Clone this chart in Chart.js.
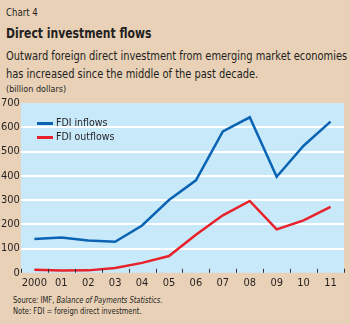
<!DOCTYPE html>
<html>
<head>
<meta charset="utf-8">
<script src="https://cdn.jsdelivr.net/npm/chart.js@4"></script>
<style>
  body { margin: 0; background: #e9d1b7; }
  #wrap { position: relative; width: 350px; height: 324px; background: #e9d1b7; font-family: 'DejaVu Sans Condensed', 'DejaVu Sans', sans-serif; font-stretch: condensed; color: #231f20; overflow: hidden; }
  .t { position: absolute; left: 6px; white-space: nowrap; transform-origin: left top; }
  #chartBox { position: absolute; left: 0; top: 95px; width: 350px; height: 191px; }
  .leg { position: absolute; font-size: 10.5px; white-space: nowrap; }
  .leg span { display: inline-block; width: 16px; height: 3px; vertical-align: middle; margin-right: 3px; }
</style>
</head>
<body>
<div id="wrap">
  <div class="t" style="top:7px;font-size:10px;transform:scaleX(0.95);">Chart 4</div>
  <div class="t" style="top:25px;font-size:14px;font-weight:bold;transform:scaleX(0.86);">Direct investment flows</div>
  <div class="t" style="top:47px;font-size:11.8px;line-height:18px;transform:scaleX(0.93);">Outward foreign direct investment from emerging market economies<br>has increased since the middle of the past decade.</div>
  <div class="t" style="top:84px;font-size:9px;">(billion dollars)</div>
  <div id="chartBox"><canvas id="chart"></canvas></div>
  <div class="leg" style="left:37px;top:116px;"><span style="background:#0a63b3"></span>FDI inflows</div>
  <div class="leg" style="left:37px;top:130px;"><span style="background:#e8212b"></span>FDI outflows</div>
  <div class="t" style="left:13px;top:295px;font-size:8.5px;transform:scaleX(0.88);">Source: IMF, <i>Balance of Payments Statistics</i>.</div>
  <div class="t" style="left:13px;top:306px;font-size:8.5px;transform:scaleX(0.88);">Note: FDI = foreign direct investment.</div>
</div>
<script>
const years = ['2000', '01', '02', '03', '04', '05', '06', '07', '08', '09', '10', '11'];
const inflows = [139, 146, 133, 128, 195, 300, 381, 583, 641, 396, 524, 623];
const outflows = [13, 9, 10, 20, 41, 69, 157, 237, 296, 179, 216, 272];
const yTicks = [0, 100, 200, 300, 400, 500, 600, 700];

const tickFont = { family: "'DejaVu Sans Condensed', 'DejaVu Sans'", size: 11 };

const areaBg = {
  id: 'areaBg',
  beforeDraw(chart) {
    const { ctx, chartArea: a } = chart;
    ctx.save();
    ctx.fillStyle = '#c8e9f9';
    ctx.fillRect(a.left, a.top, a.right - a.left, a.bottom - a.top);
    ctx.restore();
  }
};

// small tick marks between categories, drawn inside the plot bottom
const innerTicks = {
  id: 'innerTicks',
  afterDatasetsDraw(chart) {
    const { ctx, chartArea: a, scales: { x } } = chart;
    ctx.save();
    ctx.strokeStyle = '#333';
    ctx.lineWidth = 1;
    for (let i = 0; i <= years.length; i++) {
      const px = Math.round(x.getPixelForValue(i - 0.5)) + 0.5;
      ctx.beginPath();
      ctx.moveTo(px, a.bottom);
      ctx.lineTo(px, a.bottom - 4);
      ctx.stroke();
    }
    ctx.restore();
  }
};

new Chart(document.getElementById('chart'), {
  type: 'line',
  data: {
    labels: years,
    datasets: [
      { label: 'FDI inflows', data: inflows, borderColor: '#0a63b3', borderWidth: 2.5, pointRadius: 0, tension: 0 },
      { label: 'FDI outflows', data: outflows, borderColor: '#e8212b', borderWidth: 2.5, pointRadius: 0, tension: 0 }
    ]
  },
  options: {
    responsive: true,
    maintainAspectRatio: false,
    animation: false,
    layout: { padding: { top: 8, right: 6, left: 0, bottom: 0 } },
    plugins: { legend: { display: false }, tooltip: { enabled: false } },
    scales: {
      x: {
        offset: true,
        grid: { display: false },
        border: { display: false },
        ticks: { color: '#231f20', padding: -4, font: tickFont, maxRotation: 0, autoSkip: false }
      },
      y: {
        min: 0,
        max: 700,
        afterBuildTicks(axis) { axis.ticks = yTicks.map(v => ({ value: v })); },
        grid: {
          color: ctx => (ctx.tick.value === 0 || ctx.tick.value === 700) ? 'rgba(0,0,0,0)' : '#ffffff',
          lineWidth: 2,
          drawTicks: false
        },
        border: { display: false },
        ticks: { color: '#231f20', padding: 1, font: tickFont }
      }
    }
  },
  plugins: [areaBg, innerTicks]
});
</script>
</body>
</html>
